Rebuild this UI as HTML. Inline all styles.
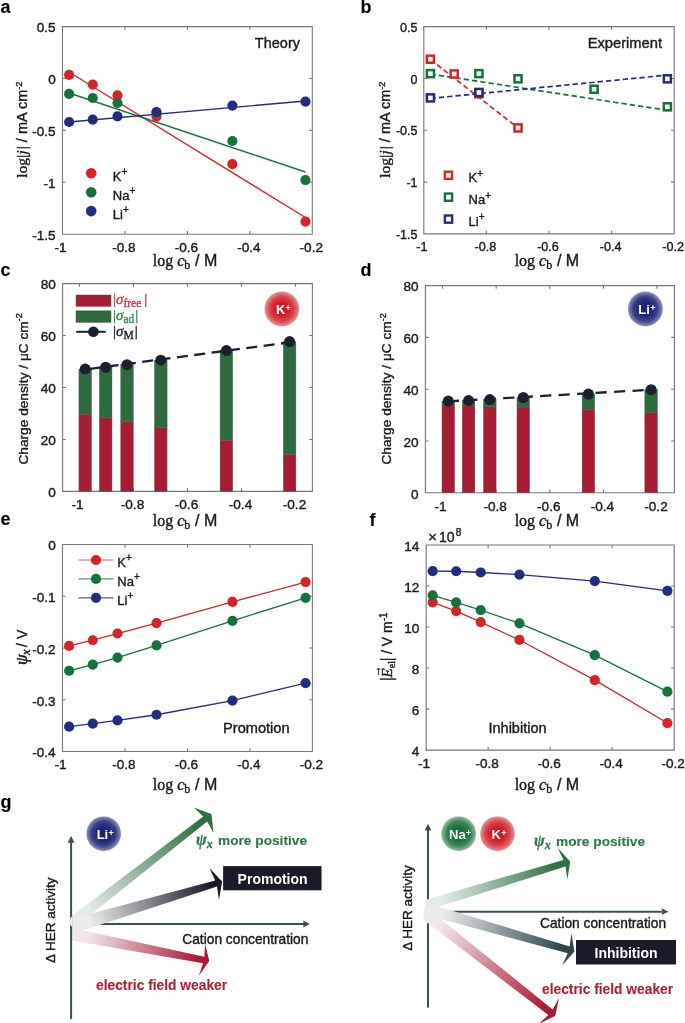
<!DOCTYPE html>
<html><head><meta charset="utf-8"><style>
html,body{margin:0;padding:0;background:#fff;}
svg{display:block;will-change:transform;}
</style></head><body><div>
<svg width="685" height="1023" viewBox="0 0 685 1023">
<defs><linearGradient id="ar1" gradientUnits="userSpaceOnUse" x1="72" y1="934.3" x2="209.3" y2="961.1"><stop offset="0" stop-color="#f1e6e9"/><stop offset="0.12" stop-color="#f1e6e9"/><stop offset="0.92" stop-color="#ab1a37"/></linearGradient>
<linearGradient id="ag1" gradientUnits="userSpaceOnUse" x1="72" y1="922.6" x2="211.5" y2="814.1"><stop offset="0" stop-color="#e3ebe5"/><stop offset="0.12" stop-color="#e3ebe5"/><stop offset="0.92" stop-color="#2d7043"/></linearGradient>
<linearGradient id="ad1" gradientUnits="userSpaceOnUse" x1="72" y1="926.4" x2="222.2" y2="881.6"><stop offset="0" stop-color="#ebebeb"/><stop offset="0.12" stop-color="#ebebeb"/><stop offset="0.92" stop-color="#191b28"/></linearGradient>
<linearGradient id="ar2" gradientUnits="userSpaceOnUse" x1="425" y1="913.6" x2="555.2" y2="1015.9"><stop offset="0" stop-color="#f1e6e9"/><stop offset="0.12" stop-color="#f1e6e9"/><stop offset="0.92" stop-color="#ab1a37"/></linearGradient>
<linearGradient id="ag2" gradientUnits="userSpaceOnUse" x1="425" y1="905.5" x2="570.2" y2="861.5"><stop offset="0" stop-color="#e3ebe5"/><stop offset="0.12" stop-color="#e3ebe5"/><stop offset="0.92" stop-color="#2d7043"/></linearGradient>
<linearGradient id="as2" gradientUnits="userSpaceOnUse" x1="425" y1="908.7" x2="574.5" y2="951.5"><stop offset="0" stop-color="#ebebeb"/><stop offset="0.12" stop-color="#ebebeb"/><stop offset="0.92" stop-color="#2c464b"/></linearGradient>
<radialGradient id="g_red" cx="0.5" cy="0.5" r="0.5"><stop offset="0" stop-color="#d11a24"/><stop offset="0.35" stop-color="#d11a24"/><stop offset="0.7" stop-color="#d8454c"/><stop offset="0.95" stop-color="#e2898d"/><stop offset="1" stop-color="#e2898d" stop-opacity="0.5"/></radialGradient>
<radialGradient id="g_blue" cx="0.5" cy="0.5" r="0.5"><stop offset="0" stop-color="#1d2377"/><stop offset="0.35" stop-color="#1d2377"/><stop offset="0.7" stop-color="#3a4088"/><stop offset="0.95" stop-color="#8387b3"/><stop offset="1" stop-color="#8387b3" stop-opacity="0.5"/></radialGradient>
<radialGradient id="g_green" cx="0.5" cy="0.5" r="0.5"><stop offset="0" stop-color="#17703a"/><stop offset="0.35" stop-color="#17703a"/><stop offset="0.7" stop-color="#3a8553"/><stop offset="0.95" stop-color="#86b294"/><stop offset="1" stop-color="#86b294" stop-opacity="0.5"/></radialGradient></defs>
<path d="M62.5,26.6H312.3V234.2H62.5ZM62.5,234.2v-3.2M62.5,26.6v3.2M124.95,234.2v-3.2M124.95,26.6v3.2M187.4,234.2v-3.2M187.4,26.6v3.2M249.85,234.2v-3.2M249.85,26.6v3.2M312.3,234.2v-3.2M312.3,26.6v3.2M62.5,26.6h3.2M312.3,26.6h-3.2M62.5,78.5h3.2M312.3,78.5h-3.2M62.5,130.4h3.2M312.3,130.4h-3.2M62.5,182.3h3.2M312.3,182.3h-3.2M62.5,234.2h3.2M312.3,234.2h-3.2" fill="none" stroke="#777" stroke-width="1.1"/>
<text x="60.5" y="251.9" font-size="13.6" text-anchor="middle" font-weight="normal" fill="#1a1a1a" font-family='"Liberation Sans", sans-serif'  stroke="#1a1a1a" stroke-width="0.38">-1</text>
<text x="123.95" y="251.9" font-size="13.6" text-anchor="middle" font-weight="normal" fill="#1a1a1a" font-family='"Liberation Sans", sans-serif'  stroke="#1a1a1a" stroke-width="0.38">-0.8</text>
<text x="186.4" y="251.9" font-size="13.6" text-anchor="middle" font-weight="normal" fill="#1a1a1a" font-family='"Liberation Sans", sans-serif'  stroke="#1a1a1a" stroke-width="0.38">-0.6</text>
<text x="248.85" y="251.9" font-size="13.6" text-anchor="middle" font-weight="normal" fill="#1a1a1a" font-family='"Liberation Sans", sans-serif'  stroke="#1a1a1a" stroke-width="0.38">-0.4</text>
<text x="311.3" y="251.9" font-size="13.6" text-anchor="middle" font-weight="normal" fill="#1a1a1a" font-family='"Liberation Sans", sans-serif'  stroke="#1a1a1a" stroke-width="0.38">-0.2</text>
<text x="55.7" y="32.4" font-size="13.6" text-anchor="end" font-weight="normal" fill="#1a1a1a" font-family='"Liberation Sans", sans-serif'  stroke="#1a1a1a" stroke-width="0.38">0.5</text>
<text x="55.7" y="84.3" font-size="13.6" text-anchor="end" font-weight="normal" fill="#1a1a1a" font-family='"Liberation Sans", sans-serif'  stroke="#1a1a1a" stroke-width="0.38">0</text>
<text x="55.7" y="136.2" font-size="13.6" text-anchor="end" font-weight="normal" fill="#1a1a1a" font-family='"Liberation Sans", sans-serif'  stroke="#1a1a1a" stroke-width="0.38">-0.5</text>
<text x="55.7" y="188.1" font-size="13.6" text-anchor="end" font-weight="normal" fill="#1a1a1a" font-family='"Liberation Sans", sans-serif'  stroke="#1a1a1a" stroke-width="0.38">-1</text>
<text x="55.7" y="240" font-size="13.6" text-anchor="end" font-weight="normal" fill="#1a1a1a" font-family='"Liberation Sans", sans-serif'  stroke="#1a1a1a" stroke-width="0.38">-1.5</text>
<text x="300" y="47.8" font-size="14.5" text-anchor="end" font-weight="normal" fill="#1a1a1a" font-family='"Liberation Sans", sans-serif'  stroke="#1a1a1a" stroke-width="0.38">Theory</text>
<line x1="69" y1="72" x2="305.4" y2="217.5" stroke="#d42428" stroke-width="1.4"/>
<line x1="69" y1="93" x2="305.4" y2="172" stroke="#14733c" stroke-width="1.4"/>
<line x1="69" y1="122" x2="305.4" y2="101" stroke="#232d7d" stroke-width="1.4"/>
<circle cx="69.12" cy="74.97" r="5.1" fill="#d42428"/>
<circle cx="92.76" cy="84.62" r="5.1" fill="#d42428"/>
<circle cx="117.48" cy="95.42" r="5.1" fill="#d42428"/>
<circle cx="156.5" cy="116.59" r="5.1" fill="#d42428"/>
<circle cx="232.39" cy="164.03" r="5.1" fill="#d42428"/>
<circle cx="305.48" cy="221.54" r="5.1" fill="#d42428"/>
<circle cx="69.12" cy="93.97" r="5.1" fill="#14733c"/>
<circle cx="92.76" cy="98.01" r="5.1" fill="#14733c"/>
<circle cx="117.48" cy="103" r="5.1" fill="#14733c"/>
<circle cx="156.5" cy="112.75" r="5.1" fill="#14733c"/>
<circle cx="232.39" cy="140.99" r="5.1" fill="#14733c"/>
<circle cx="305.48" cy="180.02" r="5.1" fill="#14733c"/>
<circle cx="69.12" cy="121.99" r="5.1" fill="#232d7d"/>
<circle cx="92.76" cy="119.6" r="5.1" fill="#232d7d"/>
<circle cx="117.48" cy="116.39" r="5.1" fill="#232d7d"/>
<circle cx="156.5" cy="112.03" r="5.1" fill="#232d7d"/>
<circle cx="232.39" cy="105.59" r="5.1" fill="#232d7d"/>
<circle cx="305.48" cy="101.6" r="5.1" fill="#232d7d"/>
<circle cx="91.2" cy="173.3" r="5.3" fill="#d42428"/>
<text x="112.8" y="180.9" font-size="13" fill="#1a1a1a" font-family='"Liberation Sans", sans-serif' stroke="#1a1a1a" stroke-width="0.38">K<tspan font-size="10" dy="-5.6">+</tspan></text>
<circle cx="91.2" cy="192.2" r="5.3" fill="#14733c"/>
<text x="112.8" y="199.8" font-size="13" fill="#1a1a1a" font-family='"Liberation Sans", sans-serif' stroke="#1a1a1a" stroke-width="0.38">Na<tspan font-size="10" dy="-5.6">+</tspan></text>
<circle cx="91.2" cy="211.1" r="5.3" fill="#232d7d"/>
<text x="112.8" y="218.7" font-size="13" fill="#1a1a1a" font-family='"Liberation Sans", sans-serif' stroke="#1a1a1a" stroke-width="0.38">Li<tspan font-size="10" dy="-5.6">+</tspan></text>
<text x="185.05" y="266.3" text-anchor="middle" fill="#1a1a1a" font-size="16" stroke="#1a1a1a" stroke-width="0.38"><tspan font-family='"Liberation Serif", serif'>log </tspan><tspan font-family='"Liberation Serif", serif' font-style="italic">c</tspan><tspan font-family='"Liberation Serif", serif' font-size="12" dy="3">b</tspan><tspan font-family='"Liberation Sans", sans-serif' font-size="16" dy="-3" dx="0.3"> / M</tspan></text>
<text transform="translate(27.2,129.8) rotate(-90)" text-anchor="middle" fill="#1a1a1a" font-size="14.5" stroke="#1a1a1a" stroke-width="0.38"><tspan font-family='"Liberation Serif", serif' font-size="15.5">log|</tspan><tspan font-family='"Liberation Serif", serif' font-size="15.5" font-style="italic" dx="0.5">j</tspan><tspan font-family='"Liberation Serif", serif' font-size="15.5" dx="0.8">|</tspan><tspan font-family='"Liberation Sans", sans-serif'> / mA cm</tspan><tspan font-family='"Liberation Sans", sans-serif' font-size="9" dy="-5.5">-2</tspan></text>
<text x="0.5" y="13.2" font-size="18" text-anchor="start" font-weight="bold" fill="#000" font-family='"Liberation Sans", sans-serif'  stroke="#000" stroke-width="0.12">a</text>
<path d="M423.8,26.6H674.2V233.9H423.8ZM423.8,233.9v-3.2M423.8,26.6v3.2M486.4,233.9v-3.2M486.4,26.6v3.2M549,233.9v-3.2M549,26.6v3.2M611.6,233.9v-3.2M611.6,26.6v3.2M674.2,233.9v-3.2M674.2,26.6v3.2M423.8,26.6h3.2M674.2,26.6h-3.2M423.8,78.43h3.2M674.2,78.43h-3.2M423.8,130.25h3.2M674.2,130.25h-3.2M423.8,182.08h3.2M674.2,182.08h-3.2M423.8,233.9h3.2M674.2,233.9h-3.2" fill="none" stroke="#777" stroke-width="1.1"/>
<text x="421.8" y="251.3" font-size="12.6" text-anchor="middle" font-weight="normal" fill="#1a1a1a" font-family='"Liberation Sans", sans-serif'  stroke="#1a1a1a" stroke-width="0.38">-1</text>
<text x="485.4" y="251.3" font-size="12.6" text-anchor="middle" font-weight="normal" fill="#1a1a1a" font-family='"Liberation Sans", sans-serif'  stroke="#1a1a1a" stroke-width="0.38">-0.8</text>
<text x="548" y="251.3" font-size="12.6" text-anchor="middle" font-weight="normal" fill="#1a1a1a" font-family='"Liberation Sans", sans-serif'  stroke="#1a1a1a" stroke-width="0.38">-0.6</text>
<text x="610.6" y="251.3" font-size="12.6" text-anchor="middle" font-weight="normal" fill="#1a1a1a" font-family='"Liberation Sans", sans-serif'  stroke="#1a1a1a" stroke-width="0.38">-0.4</text>
<text x="673.2" y="251.3" font-size="12.6" text-anchor="middle" font-weight="normal" fill="#1a1a1a" font-family='"Liberation Sans", sans-serif'  stroke="#1a1a1a" stroke-width="0.38">-0.2</text>
<text x="417.5" y="31.8" font-size="12.5" text-anchor="end" font-weight="normal" fill="#1a1a1a" font-family='"Liberation Sans", sans-serif'  stroke="#1a1a1a" stroke-width="0.38">0.5</text>
<text x="417.5" y="83.63" font-size="12.5" text-anchor="end" font-weight="normal" fill="#1a1a1a" font-family='"Liberation Sans", sans-serif'  stroke="#1a1a1a" stroke-width="0.38">0</text>
<text x="417.5" y="135.45" font-size="12.5" text-anchor="end" font-weight="normal" fill="#1a1a1a" font-family='"Liberation Sans", sans-serif'  stroke="#1a1a1a" stroke-width="0.38">-0.5</text>
<text x="417.5" y="187.28" font-size="12.5" text-anchor="end" font-weight="normal" fill="#1a1a1a" font-family='"Liberation Sans", sans-serif'  stroke="#1a1a1a" stroke-width="0.38">-1</text>
<text x="417.5" y="239.1" font-size="12.5" text-anchor="end" font-weight="normal" fill="#1a1a1a" font-family='"Liberation Sans", sans-serif'  stroke="#1a1a1a" stroke-width="0.38">-1.5</text>
<text x="662" y="47.8" font-size="14.7" text-anchor="end" font-weight="normal" fill="#1a1a1a" font-family='"Liberation Sans", sans-serif'  stroke="#1a1a1a" stroke-width="0.38">Experiment</text>
<line x1="430.43" y1="59.53" x2="518.02" y2="127.94" stroke="#d42428" stroke-width="1.7" stroke-dasharray="5.3 3.1"/>
<line x1="430.43" y1="74.04" x2="667.36" y2="110.32" stroke="#14733c" stroke-width="1.7" stroke-dasharray="5.3 3.1"/>
<line x1="430.43" y1="98.4" x2="667.36" y2="75.08" stroke="#232d7d" stroke-width="1.7" stroke-dasharray="5.3 3.1"/>
<rect x="426.88" y="70.08" width="7.1" height="7.1" fill="#fff" stroke="#14733c" stroke-width="2.5"/>
<rect x="475.37" y="70.08" width="7.1" height="7.1" fill="#fff" stroke="#14733c" stroke-width="2.5"/>
<rect x="514.47" y="75.26" width="7.1" height="7.1" fill="#fff" stroke="#14733c" stroke-width="2.5"/>
<rect x="590.54" y="85.73" width="7.1" height="7.1" fill="#fff" stroke="#14733c" stroke-width="2.5"/>
<rect x="663.81" y="103.25" width="7.1" height="7.1" fill="#fff" stroke="#14733c" stroke-width="2.5"/>
<rect x="426.88" y="55.67" width="7.1" height="7.1" fill="#fff" stroke="#d42428" stroke-width="2.5"/>
<rect x="450.58" y="70.39" width="7.1" height="7.1" fill="#fff" stroke="#d42428" stroke-width="2.5"/>
<rect x="475.37" y="90.19" width="7.1" height="7.1" fill="#fff" stroke="#d42428" stroke-width="2.5"/>
<rect x="514.47" y="124.39" width="7.1" height="7.1" fill="#fff" stroke="#d42428" stroke-width="2.5"/>
<rect x="426.88" y="94.33" width="7.1" height="7.1" fill="#fff" stroke="#232d7d" stroke-width="2.5"/>
<rect x="475.37" y="88.94" width="7.1" height="7.1" fill="#fff" stroke="#232d7d" stroke-width="2.5"/>
<rect x="663.81" y="75.26" width="7.1" height="7.1" fill="#fff" stroke="#232d7d" stroke-width="2.5"/>
<rect x="444.9" y="171.7" width="7.2" height="7.2" fill="none" stroke="#d42428" stroke-width="2.4"/>
<text x="468.6" y="182.2" font-size="13" fill="#1a1a1a" font-family='"Liberation Sans", sans-serif' stroke="#1a1a1a" stroke-width="0.38">K<tspan font-size="10" dy="-5.6">+</tspan></text>
<rect x="444.9" y="193.6" width="7.2" height="7.2" fill="none" stroke="#14733c" stroke-width="2.4"/>
<text x="468.6" y="204.1" font-size="13" fill="#1a1a1a" font-family='"Liberation Sans", sans-serif' stroke="#1a1a1a" stroke-width="0.38">Na<tspan font-size="10" dy="-5.6">+</tspan></text>
<rect x="444.9" y="215.5" width="7.2" height="7.2" fill="none" stroke="#232d7d" stroke-width="2.4"/>
<text x="468.6" y="226" font-size="13" fill="#1a1a1a" font-family='"Liberation Sans", sans-serif' stroke="#1a1a1a" stroke-width="0.38">Li<tspan font-size="10" dy="-5.6">+</tspan></text>
<text x="546.9" y="266.3" text-anchor="middle" fill="#1a1a1a" font-size="16" stroke="#1a1a1a" stroke-width="0.38"><tspan font-family='"Liberation Serif", serif'>log </tspan><tspan font-family='"Liberation Serif", serif' font-style="italic">c</tspan><tspan font-family='"Liberation Serif", serif' font-size="12" dy="3">b</tspan><tspan font-family='"Liberation Sans", sans-serif' font-size="16" dy="-3" dx="0.3"> / M</tspan></text>
<text transform="translate(390.4,129.8) rotate(-90)" text-anchor="middle" fill="#1a1a1a" font-size="14.5" stroke="#1a1a1a" stroke-width="0.38"><tspan font-family='"Liberation Serif", serif' font-size="15.5">log|</tspan><tspan font-family='"Liberation Serif", serif' font-size="15.5" font-style="italic" dx="0.5">j</tspan><tspan font-family='"Liberation Serif", serif' font-size="15.5" dx="0.8">|</tspan><tspan font-family='"Liberation Sans", sans-serif'> / mA cm</tspan><tspan font-family='"Liberation Sans", sans-serif' font-size="9" dy="-5.5">-2</tspan></text>
<text x="360.5" y="13.2" font-size="18" text-anchor="start" font-weight="bold" fill="#000" font-family='"Liberation Sans", sans-serif'  stroke="#000" stroke-width="0.12">b</text>
<path d="M62.6,283.6H312.4V491.4H62.6ZM79.5,491.4v-3.2M79.5,283.6v3.2M133.5,491.4v-3.2M133.5,283.6v3.2M187.5,491.4v-3.2M187.5,283.6v3.2M241.5,491.4v-3.2M241.5,283.6v3.2M295.5,491.4v-3.2M295.5,283.6v3.2M62.6,491.4h3.2M312.4,491.4h-3.2M62.6,439.45h3.2M312.4,439.45h-3.2M62.6,387.5h3.2M312.4,387.5h-3.2M62.6,335.55h3.2M312.4,335.55h-3.2M62.6,283.6h3.2M312.4,283.6h-3.2" fill="none" stroke="#777" stroke-width="1.1"/>
<text x="77.5" y="509.1" font-size="13.6" text-anchor="middle" font-weight="normal" fill="#1a1a1a" font-family='"Liberation Sans", sans-serif'  stroke="#1a1a1a" stroke-width="0.38">-1</text>
<text x="132.5" y="509.1" font-size="13.6" text-anchor="middle" font-weight="normal" fill="#1a1a1a" font-family='"Liberation Sans", sans-serif'  stroke="#1a1a1a" stroke-width="0.38">-0.8</text>
<text x="186.5" y="509.1" font-size="13.6" text-anchor="middle" font-weight="normal" fill="#1a1a1a" font-family='"Liberation Sans", sans-serif'  stroke="#1a1a1a" stroke-width="0.38">-0.6</text>
<text x="240.5" y="509.1" font-size="13.6" text-anchor="middle" font-weight="normal" fill="#1a1a1a" font-family='"Liberation Sans", sans-serif'  stroke="#1a1a1a" stroke-width="0.38">-0.4</text>
<text x="294.5" y="509.1" font-size="13.6" text-anchor="middle" font-weight="normal" fill="#1a1a1a" font-family='"Liberation Sans", sans-serif'  stroke="#1a1a1a" stroke-width="0.38">-0.2</text>
<text x="55.8" y="497.2" font-size="13.6" text-anchor="end" font-weight="normal" fill="#1a1a1a" font-family='"Liberation Sans", sans-serif'  stroke="#1a1a1a" stroke-width="0.38">0</text>
<text x="55.8" y="445.25" font-size="13.6" text-anchor="end" font-weight="normal" fill="#1a1a1a" font-family='"Liberation Sans", sans-serif'  stroke="#1a1a1a" stroke-width="0.38">20</text>
<text x="55.8" y="393.3" font-size="13.6" text-anchor="end" font-weight="normal" fill="#1a1a1a" font-family='"Liberation Sans", sans-serif'  stroke="#1a1a1a" stroke-width="0.38">40</text>
<text x="55.8" y="341.35" font-size="13.6" text-anchor="end" font-weight="normal" fill="#1a1a1a" font-family='"Liberation Sans", sans-serif'  stroke="#1a1a1a" stroke-width="0.38">60</text>
<text x="55.8" y="289.4" font-size="13.6" text-anchor="end" font-weight="normal" fill="#1a1a1a" font-family='"Liberation Sans", sans-serif'  stroke="#1a1a1a" stroke-width="0.38">80</text>
<rect x="78.92" y="414.51" width="12.6" height="76.89" fill="#a51c33" stroke="#555" stroke-width="0.4"/>
<rect x="78.92" y="369.06" width="12.6" height="45.46" fill="#2c6b3e" stroke="#555" stroke-width="0.4"/>
<rect x="99.37" y="417.37" width="12.6" height="74.03" fill="#a51c33" stroke="#555" stroke-width="0.4"/>
<rect x="99.37" y="367.24" width="12.6" height="50.13" fill="#2c6b3e" stroke="#555" stroke-width="0.4"/>
<rect x="120.74" y="421.53" width="12.6" height="69.87" fill="#a51c33" stroke="#555" stroke-width="0.4"/>
<rect x="120.74" y="364.64" width="12.6" height="56.89" fill="#2c6b3e" stroke="#555" stroke-width="0.4"/>
<rect x="154.48" y="427.5" width="12.6" height="63.9" fill="#a51c33" stroke="#555" stroke-width="0.4"/>
<rect x="154.48" y="360.23" width="12.6" height="67.28" fill="#2c6b3e" stroke="#555" stroke-width="0.4"/>
<rect x="220.1" y="440.49" width="12.6" height="50.91" fill="#a51c33" stroke="#555" stroke-width="0.4"/>
<rect x="220.1" y="350.62" width="12.6" height="89.87" fill="#2c6b3e" stroke="#555" stroke-width="0.4"/>
<rect x="283.3" y="454.52" width="12.6" height="36.88" fill="#a51c33" stroke="#555" stroke-width="0.4"/>
<rect x="283.3" y="341.52" width="12.6" height="112.99" fill="#2c6b3e" stroke="#555" stroke-width="0.4"/>
<line x1="85" y1="369.5" x2="290" y2="342.3" stroke="#1c1f2e" stroke-width="2.3" stroke-dasharray="11 6.5" stroke-dashoffset="12.3"/>
<circle cx="85.22" cy="369.06" r="5.5" fill="#1c1f2e"/>
<circle cx="105.67" cy="367.24" r="5.5" fill="#1c1f2e"/>
<circle cx="127.04" cy="364.64" r="5.5" fill="#1c1f2e"/>
<circle cx="160.78" cy="360.23" r="5.5" fill="#1c1f2e"/>
<circle cx="226.4" cy="350.62" r="5.5" fill="#1c1f2e"/>
<circle cx="289.6" cy="341.52" r="5.5" fill="#1c1f2e"/>
<text x="0.5" y="275.5" font-size="18" text-anchor="start" font-weight="bold" fill="#000" font-family='"Liberation Sans", sans-serif'  stroke="#000" stroke-width="0.12">c</text>
<text x="185.05" y="526" text-anchor="middle" fill="#1a1a1a" font-size="16" stroke="#1a1a1a" stroke-width="0.38"><tspan font-family='"Liberation Serif", serif'>log </tspan><tspan font-family='"Liberation Serif", serif' font-style="italic">c</tspan><tspan font-family='"Liberation Serif", serif' font-size="12" dy="3">b</tspan><tspan font-family='"Liberation Sans", sans-serif' font-size="16" dy="-3" dx="0.3"> / M</tspan></text>
<path d="M425.4,285.6H674.4V492.8H425.4ZM442.6,492.8v-3.2M442.6,285.6v3.2M496.2,492.8v-3.2M496.2,285.6v3.2M549.8,492.8v-3.2M549.8,285.6v3.2M603.4,492.8v-3.2M603.4,285.6v3.2M657,492.8v-3.2M657,285.6v3.2M425.4,492.8h3.2M674.4,492.8h-3.2M425.4,441h3.2M674.4,441h-3.2M425.4,389.2h3.2M674.4,389.2h-3.2M425.4,337.4h3.2M674.4,337.4h-3.2M425.4,285.6h3.2M674.4,285.6h-3.2" fill="none" stroke="#777" stroke-width="1.1"/>
<text x="440.6" y="510.5" font-size="13.6" text-anchor="middle" font-weight="normal" fill="#1a1a1a" font-family='"Liberation Sans", sans-serif'  stroke="#1a1a1a" stroke-width="0.38">-1</text>
<text x="495.2" y="510.5" font-size="13.6" text-anchor="middle" font-weight="normal" fill="#1a1a1a" font-family='"Liberation Sans", sans-serif'  stroke="#1a1a1a" stroke-width="0.38">-0.8</text>
<text x="548.8" y="510.5" font-size="13.6" text-anchor="middle" font-weight="normal" fill="#1a1a1a" font-family='"Liberation Sans", sans-serif'  stroke="#1a1a1a" stroke-width="0.38">-0.6</text>
<text x="602.4" y="510.5" font-size="13.6" text-anchor="middle" font-weight="normal" fill="#1a1a1a" font-family='"Liberation Sans", sans-serif'  stroke="#1a1a1a" stroke-width="0.38">-0.4</text>
<text x="656" y="510.5" font-size="13.6" text-anchor="middle" font-weight="normal" fill="#1a1a1a" font-family='"Liberation Sans", sans-serif'  stroke="#1a1a1a" stroke-width="0.38">-0.2</text>
<text x="418.6" y="498.6" font-size="13.6" text-anchor="end" font-weight="normal" fill="#1a1a1a" font-family='"Liberation Sans", sans-serif'  stroke="#1a1a1a" stroke-width="0.38">0</text>
<text x="418.6" y="446.8" font-size="13.6" text-anchor="end" font-weight="normal" fill="#1a1a1a" font-family='"Liberation Sans", sans-serif'  stroke="#1a1a1a" stroke-width="0.38">20</text>
<text x="418.6" y="395" font-size="13.6" text-anchor="end" font-weight="normal" fill="#1a1a1a" font-family='"Liberation Sans", sans-serif'  stroke="#1a1a1a" stroke-width="0.38">40</text>
<text x="418.6" y="343.2" font-size="13.6" text-anchor="end" font-weight="normal" fill="#1a1a1a" font-family='"Liberation Sans", sans-serif'  stroke="#1a1a1a" stroke-width="0.38">60</text>
<text x="418.6" y="291.4" font-size="13.6" text-anchor="end" font-weight="normal" fill="#1a1a1a" font-family='"Liberation Sans", sans-serif'  stroke="#1a1a1a" stroke-width="0.38">80</text>
<rect x="441.98" y="405.78" width="12.6" height="87.02" fill="#a51c33" stroke="#555" stroke-width="0.4"/>
<rect x="441.98" y="401.11" width="12.6" height="4.66" fill="#2c6b3e" stroke="#555" stroke-width="0.4"/>
<rect x="462.27" y="405.78" width="12.6" height="87.02" fill="#a51c33" stroke="#555" stroke-width="0.4"/>
<rect x="462.27" y="400.6" width="12.6" height="5.18" fill="#2c6b3e" stroke="#555" stroke-width="0.4"/>
<rect x="483.49" y="406.55" width="12.6" height="86.25" fill="#a51c33" stroke="#555" stroke-width="0.4"/>
<rect x="483.49" y="399.56" width="12.6" height="6.99" fill="#2c6b3e" stroke="#555" stroke-width="0.4"/>
<rect x="516.98" y="407.07" width="12.6" height="85.73" fill="#a51c33" stroke="#555" stroke-width="0.4"/>
<rect x="516.98" y="397.49" width="12.6" height="9.58" fill="#2c6b3e" stroke="#555" stroke-width="0.4"/>
<rect x="582.11" y="409.4" width="12.6" height="83.4" fill="#a51c33" stroke="#555" stroke-width="0.4"/>
<rect x="582.11" y="394.12" width="12.6" height="15.28" fill="#2c6b3e" stroke="#555" stroke-width="0.4"/>
<rect x="644.84" y="412.51" width="12.6" height="80.29" fill="#a51c33" stroke="#555" stroke-width="0.4"/>
<rect x="644.84" y="389.72" width="12.6" height="22.79" fill="#2c6b3e" stroke="#555" stroke-width="0.4"/>
<line x1="448.28" y1="401.37" x2="651.14" y2="389.72" stroke="#1c1f2e" stroke-width="2.3" stroke-dasharray="11.2 7.3" stroke-dashoffset="0.5"/>
<circle cx="448.28" cy="401.11" r="5.5" fill="#1c1f2e"/>
<circle cx="468.57" cy="400.6" r="5.5" fill="#1c1f2e"/>
<circle cx="489.79" cy="399.56" r="5.5" fill="#1c1f2e"/>
<circle cx="523.28" cy="397.49" r="5.5" fill="#1c1f2e"/>
<circle cx="588.41" cy="394.12" r="5.5" fill="#1c1f2e"/>
<circle cx="651.14" cy="389.72" r="5.5" fill="#1c1f2e"/>
<text x="360.5" y="275.5" font-size="18" text-anchor="start" font-weight="bold" fill="#000" font-family='"Liberation Sans", sans-serif'  stroke="#000" stroke-width="0.12">d</text>
<text x="546.9" y="526" text-anchor="middle" fill="#1a1a1a" font-size="16" stroke="#1a1a1a" stroke-width="0.38"><tspan font-family='"Liberation Serif", serif'>log </tspan><tspan font-family='"Liberation Serif", serif' font-style="italic">c</tspan><tspan font-family='"Liberation Serif", serif' font-size="12" dy="3">b</tspan><tspan font-family='"Liberation Sans", sans-serif' font-size="16" dy="-3" dx="0.3"> / M</tspan></text>
<path d="M62.5,544.5H312.4V751.5H62.5ZM62.5,751.5v-3.2M62.5,544.5v3.2M124.97,751.5v-3.2M124.97,544.5v3.2M187.45,751.5v-3.2M187.45,544.5v3.2M249.92,751.5v-3.2M249.92,544.5v3.2M312.4,751.5v-3.2M312.4,544.5v3.2M62.5,544.5h3.2M312.4,544.5h-3.2M62.5,596.25h3.2M312.4,596.25h-3.2M62.5,648h3.2M312.4,648h-3.2M62.5,699.75h3.2M312.4,699.75h-3.2M62.5,751.5h3.2M312.4,751.5h-3.2" fill="none" stroke="#777" stroke-width="1.1"/>
<text x="60.5" y="769.2" font-size="13.6" text-anchor="middle" font-weight="normal" fill="#1a1a1a" font-family='"Liberation Sans", sans-serif'  stroke="#1a1a1a" stroke-width="0.38">-1</text>
<text x="123.97" y="769.2" font-size="13.6" text-anchor="middle" font-weight="normal" fill="#1a1a1a" font-family='"Liberation Sans", sans-serif'  stroke="#1a1a1a" stroke-width="0.38">-0.8</text>
<text x="186.45" y="769.2" font-size="13.6" text-anchor="middle" font-weight="normal" fill="#1a1a1a" font-family='"Liberation Sans", sans-serif'  stroke="#1a1a1a" stroke-width="0.38">-0.6</text>
<text x="248.92" y="769.2" font-size="13.6" text-anchor="middle" font-weight="normal" fill="#1a1a1a" font-family='"Liberation Sans", sans-serif'  stroke="#1a1a1a" stroke-width="0.38">-0.4</text>
<text x="311.4" y="769.2" font-size="13.6" text-anchor="middle" font-weight="normal" fill="#1a1a1a" font-family='"Liberation Sans", sans-serif'  stroke="#1a1a1a" stroke-width="0.38">-0.2</text>
<text x="55.7" y="550.3" font-size="13.6" text-anchor="end" font-weight="normal" fill="#1a1a1a" font-family='"Liberation Sans", sans-serif'  stroke="#1a1a1a" stroke-width="0.38">0</text>
<text x="55.7" y="602.05" font-size="13.6" text-anchor="end" font-weight="normal" fill="#1a1a1a" font-family='"Liberation Sans", sans-serif'  stroke="#1a1a1a" stroke-width="0.38">-0.1</text>
<text x="55.7" y="653.8" font-size="13.6" text-anchor="end" font-weight="normal" fill="#1a1a1a" font-family='"Liberation Sans", sans-serif'  stroke="#1a1a1a" stroke-width="0.38">-0.2</text>
<text x="55.7" y="705.55" font-size="13.6" text-anchor="end" font-weight="normal" fill="#1a1a1a" font-family='"Liberation Sans", sans-serif'  stroke="#1a1a1a" stroke-width="0.38">-0.3</text>
<text x="55.7" y="757.3" font-size="13.6" text-anchor="end" font-weight="normal" fill="#1a1a1a" font-family='"Liberation Sans", sans-serif'  stroke="#1a1a1a" stroke-width="0.38">-0.4</text>
<polyline points="69.12,645.93 92.77,640.24 117.51,633.51 156.53,623.16 232.45,601.94 305.57,582.02" fill="none" stroke="#d42428" stroke-width="1.3"/>
<circle cx="69.12" cy="645.93" r="5.1" fill="#d42428"/>
<circle cx="92.77" cy="640.24" r="5.1" fill="#d42428"/>
<circle cx="117.51" cy="633.51" r="5.1" fill="#d42428"/>
<circle cx="156.53" cy="623.16" r="5.1" fill="#d42428"/>
<circle cx="232.45" cy="601.94" r="5.1" fill="#d42428"/>
<circle cx="305.57" cy="582.02" r="5.1" fill="#d42428"/>
<polyline points="69.12,670.77 92.77,664.56 117.51,657.57 156.53,645.41 232.45,620.83 305.57,597.8" fill="none" stroke="#14733c" stroke-width="1.3"/>
<circle cx="69.12" cy="670.77" r="5.1" fill="#14733c"/>
<circle cx="92.77" cy="664.56" r="5.1" fill="#14733c"/>
<circle cx="117.51" cy="657.57" r="5.1" fill="#14733c"/>
<circle cx="156.53" cy="645.41" r="5.1" fill="#14733c"/>
<circle cx="232.45" cy="620.83" r="5.1" fill="#14733c"/>
<circle cx="305.57" cy="597.8" r="5.1" fill="#14733c"/>
<polyline points="69.12,726.66 92.77,723.55 117.51,720.45 156.53,714.76 232.45,700.53 305.57,683.19" fill="none" stroke="#232d7d" stroke-width="1.3"/>
<circle cx="69.12" cy="726.66" r="5.1" fill="#232d7d"/>
<circle cx="92.77" cy="723.55" r="5.1" fill="#232d7d"/>
<circle cx="117.51" cy="720.45" r="5.1" fill="#232d7d"/>
<circle cx="156.53" cy="714.76" r="5.1" fill="#232d7d"/>
<circle cx="232.45" cy="700.53" r="5.1" fill="#232d7d"/>
<circle cx="305.57" cy="683.19" r="5.1" fill="#232d7d"/>
<line x1="78.4" y1="560" x2="113.4" y2="560" stroke="#d42428" stroke-width="1.2" opacity="0.75"/>
<circle cx="96" cy="560" r="5.1" fill="#d42428"/>
<text x="117.3" y="567" font-size="13" fill="#1a1a1a" font-family='"Liberation Sans", sans-serif' stroke="#1a1a1a" stroke-width="0.38">K<tspan font-size="10" dy="-5.6">+</tspan></text>
<line x1="78.4" y1="578.9" x2="113.4" y2="578.9" stroke="#14733c" stroke-width="1.2" opacity="0.75"/>
<circle cx="96" cy="578.9" r="5.1" fill="#14733c"/>
<text x="117.3" y="585.9" font-size="13" fill="#1a1a1a" font-family='"Liberation Sans", sans-serif' stroke="#1a1a1a" stroke-width="0.38">Na<tspan font-size="10" dy="-5.6">+</tspan></text>
<line x1="78.4" y1="597.8" x2="113.4" y2="597.8" stroke="#232d7d" stroke-width="1.2" opacity="0.75"/>
<circle cx="96" cy="597.8" r="5.1" fill="#232d7d"/>
<text x="117.3" y="604.8" font-size="13" fill="#1a1a1a" font-family='"Liberation Sans", sans-serif' stroke="#1a1a1a" stroke-width="0.38">Li<tspan font-size="10" dy="-5.6">+</tspan></text>
<text x="289.6" y="733.2" font-size="14.6" text-anchor="end" font-weight="normal" fill="#1a1a1a" font-family='"Liberation Sans", sans-serif'  stroke="#1a1a1a" stroke-width="0.38">Promotion</text>
<text x="0.5" y="525" font-size="18" text-anchor="start" font-weight="bold" fill="#000" font-family='"Liberation Sans", sans-serif'  stroke="#000" stroke-width="0.12">e</text>
<text x="185.05" y="790" text-anchor="middle" fill="#1a1a1a" font-size="16" stroke="#1a1a1a" stroke-width="0.38"><tspan font-family='"Liberation Serif", serif'>log </tspan><tspan font-family='"Liberation Serif", serif' font-style="italic">c</tspan><tspan font-family='"Liberation Serif", serif' font-size="12" dy="3">b</tspan><tspan font-family='"Liberation Sans", sans-serif' font-size="16" dy="-3" dx="0.3"> / M</tspan></text>
<path d="M426.2,545H674.2V750.1H426.2ZM426.1,750.1v-3.2M426.1,545v3.2M488.12,750.1v-3.2M488.12,545v3.2M550.14,750.1v-3.2M550.14,545v3.2M612.16,750.1v-3.2M612.16,545v3.2M674.18,750.1v-3.2M674.18,545v3.2M426.2,545h3.2M674.2,545h-3.2M426.2,586.02h3.2M674.2,586.02h-3.2M426.2,627.04h3.2M674.2,627.04h-3.2M426.2,668.06h3.2M674.2,668.06h-3.2M426.2,709.08h3.2M674.2,709.08h-3.2M426.2,750.1h3.2M674.2,750.1h-3.2" fill="none" stroke="#777" stroke-width="1.1"/>
<text x="424.1" y="767.8" font-size="13.6" text-anchor="middle" font-weight="normal" fill="#1a1a1a" font-family='"Liberation Sans", sans-serif'  stroke="#1a1a1a" stroke-width="0.38">-1</text>
<text x="487.12" y="767.8" font-size="13.6" text-anchor="middle" font-weight="normal" fill="#1a1a1a" font-family='"Liberation Sans", sans-serif'  stroke="#1a1a1a" stroke-width="0.38">-0.8</text>
<text x="549.14" y="767.8" font-size="13.6" text-anchor="middle" font-weight="normal" fill="#1a1a1a" font-family='"Liberation Sans", sans-serif'  stroke="#1a1a1a" stroke-width="0.38">-0.6</text>
<text x="611.16" y="767.8" font-size="13.6" text-anchor="middle" font-weight="normal" fill="#1a1a1a" font-family='"Liberation Sans", sans-serif'  stroke="#1a1a1a" stroke-width="0.38">-0.4</text>
<text x="673.18" y="767.8" font-size="13.6" text-anchor="middle" font-weight="normal" fill="#1a1a1a" font-family='"Liberation Sans", sans-serif'  stroke="#1a1a1a" stroke-width="0.38">-0.2</text>
<text x="419.4" y="550.8" font-size="13.6" text-anchor="end" font-weight="normal" fill="#1a1a1a" font-family='"Liberation Sans", sans-serif'  stroke="#1a1a1a" stroke-width="0.38">14</text>
<text x="419.4" y="591.82" font-size="13.6" text-anchor="end" font-weight="normal" fill="#1a1a1a" font-family='"Liberation Sans", sans-serif'  stroke="#1a1a1a" stroke-width="0.38">12</text>
<text x="419.4" y="632.84" font-size="13.6" text-anchor="end" font-weight="normal" fill="#1a1a1a" font-family='"Liberation Sans", sans-serif'  stroke="#1a1a1a" stroke-width="0.38">10</text>
<text x="419.4" y="673.86" font-size="13.6" text-anchor="end" font-weight="normal" fill="#1a1a1a" font-family='"Liberation Sans", sans-serif'  stroke="#1a1a1a" stroke-width="0.38">8</text>
<text x="419.4" y="714.88" font-size="13.6" text-anchor="end" font-weight="normal" fill="#1a1a1a" font-family='"Liberation Sans", sans-serif'  stroke="#1a1a1a" stroke-width="0.38">6</text>
<text x="419.4" y="755.9" font-size="13.6" text-anchor="end" font-weight="normal" fill="#1a1a1a" font-family='"Liberation Sans", sans-serif'  stroke="#1a1a1a" stroke-width="0.38">4</text>
<polyline points="432.67,602.43 456.15,611.04 480.71,622.12 519.45,639.96 594.82,680.16 667.4,723.03" fill="none" stroke="#d42428" stroke-width="1.3"/>
<circle cx="432.67" cy="602.43" r="5.1" fill="#d42428"/>
<circle cx="456.15" cy="611.04" r="5.1" fill="#d42428"/>
<circle cx="480.71" cy="622.12" r="5.1" fill="#d42428"/>
<circle cx="519.45" cy="639.96" r="5.1" fill="#d42428"/>
<circle cx="594.82" cy="680.16" r="5.1" fill="#d42428"/>
<circle cx="667.4" cy="723.03" r="5.1" fill="#d42428"/>
<polyline points="432.67,595.45 456.15,602.43 480.71,610.02 519.45,623.35 594.82,655.14 667.4,691.65" fill="none" stroke="#14733c" stroke-width="1.3"/>
<circle cx="432.67" cy="595.45" r="5.1" fill="#14733c"/>
<circle cx="456.15" cy="602.43" r="5.1" fill="#14733c"/>
<circle cx="480.71" cy="610.02" r="5.1" fill="#14733c"/>
<circle cx="519.45" cy="623.35" r="5.1" fill="#14733c"/>
<circle cx="594.82" cy="655.14" r="5.1" fill="#14733c"/>
<circle cx="667.4" cy="691.65" r="5.1" fill="#14733c"/>
<polyline points="432.67,571.05 456.15,571.25 480.71,572.48 519.45,574.53 594.82,581.1 667.4,590.94" fill="none" stroke="#232d7d" stroke-width="1.3"/>
<circle cx="432.67" cy="571.05" r="5.1" fill="#232d7d"/>
<circle cx="456.15" cy="571.25" r="5.1" fill="#232d7d"/>
<circle cx="480.71" cy="572.48" r="5.1" fill="#232d7d"/>
<circle cx="519.45" cy="574.53" r="5.1" fill="#232d7d"/>
<circle cx="594.82" cy="581.1" r="5.1" fill="#232d7d"/>
<circle cx="667.4" cy="590.94" r="5.1" fill="#232d7d"/>
<text x="517.5" y="732.5" font-size="14.5" text-anchor="middle" font-weight="normal" fill="#1a1a1a" font-family='"Liberation Sans", sans-serif'  stroke="#1a1a1a" stroke-width="0.38">Inhibition</text>
<text x="369.5" y="526" font-size="18" text-anchor="start" font-weight="bold" fill="#000" font-family='"Liberation Sans", sans-serif'  stroke="#000" stroke-width="0.12">f</text>
<text x="546.9" y="790" text-anchor="middle" fill="#1a1a1a" font-size="16" stroke="#1a1a1a" stroke-width="0.38"><tspan font-family='"Liberation Serif", serif'>log </tspan><tspan font-family='"Liberation Serif", serif' font-style="italic">c</tspan><tspan font-family='"Liberation Serif", serif' font-size="12" dy="3">b</tspan><tspan font-family='"Liberation Sans", sans-serif' font-size="16" dy="-3" dx="0.3"> / M</tspan></text>
<text transform="translate(27.6,388.9) rotate(-90)" text-anchor="middle" fill="#1a1a1a" font-size="13.7" font-family='"Liberation Sans", sans-serif' stroke="#1a1a1a" stroke-width="0.38">Charge density / &#956;C cm<tspan font-size="9" dy="-5.5">-2</tspan></text>
<text transform="translate(391.1,388.9) rotate(-90)" text-anchor="middle" fill="#1a1a1a" font-size="13.7" font-family='"Liberation Sans", sans-serif' stroke="#1a1a1a" stroke-width="0.38">Charge density / &#956;C cm<tspan font-size="9" dy="-5.5">-2</tspan></text>
<circle cx="281.9" cy="308.9" r="17.6" fill="url(#g_red)"/>
<text x="283.4" y="313.9" font-size="13" font-weight="bold" fill="#fff" text-anchor="middle" font-family='"Liberation Sans", sans-serif'>K<tspan font-size="9" dy="-2.6" dx="0.3">+</tspan></text>
<circle cx="645.4" cy="308.9" r="17.6" fill="url(#g_blue)"/>
<text x="646.9" y="313.9" font-size="13" font-weight="bold" fill="#fff" text-anchor="middle" font-family='"Liberation Sans", sans-serif'>Li<tspan font-size="9" dy="-2.6" dx="0.3">+</tspan></text>
<rect x="76" y="295" width="35" height="11.3" fill="#a51c33" stroke="#555" stroke-width="0.5"/>
<rect x="76" y="310.8" width="35" height="11.5" fill="#2c6b3e" stroke="#555" stroke-width="0.5"/>
<line x1="76.3" y1="331.8" x2="105.7" y2="331.8" stroke="#1c1f2e" stroke-width="2"/>
<circle cx="93.4" cy="331.8" r="5.3" fill="#1c1f2e"/>
<text x="113" y="304.3" fill="#c23b4e" font-size="15" font-family='"Liberation Serif", serif' stroke="#c23b4e" stroke-width="0.38">|<tspan font-style="italic">&#963;</tspan><tspan font-size="11.5" dy="3">free</tspan><tspan dy="-3" dx="3">|</tspan></text>
<text x="113" y="320.2" fill="#3d8a55" font-size="15" font-family='"Liberation Serif", serif' stroke="#3d8a55" stroke-width="0.38">|<tspan font-style="italic">&#963;</tspan><tspan font-size="11.5" dy="3">ad</tspan><tspan dy="-3" dx="1">|</tspan></text>
<text x="113" y="336.2" fill="#1c1f2e" font-size="15" font-family='"Liberation Serif", serif' stroke="#1c1f2e" stroke-width="0.38">|<tspan font-style="italic">&#963;</tspan><tspan font-size="11.5" dy="3">M</tspan><tspan dy="-3" dx="1">|</tspan></text>
<text transform="translate(26.6,647.4) rotate(-90)" text-anchor="middle" fill="#1a1a1a" font-size="15" stroke="#1a1a1a" stroke-width="0.38"><tspan font-family='"Liberation Serif", serif' font-style="italic" font-size="17" stroke-width="0.6">&#968;</tspan><tspan font-family='"Liberation Serif", serif' font-style="italic" font-size="12.5" dy="3" dx="-0.5">x</tspan><tspan font-family='"Liberation Sans", sans-serif' font-size="14" dy="-3" dx="2.5">/ V</tspan></text>
<text transform="translate(392.2,646.5) rotate(-90)" text-anchor="middle" fill="#1a1a1a" font-size="14" stroke="#1a1a1a" stroke-width="0.38"><tspan font-family='"Liberation Serif", serif' font-size="16">|</tspan><tspan font-family='"Liberation Serif", serif' font-style="italic" font-size="15">E</tspan><tspan font-family='"Liberation Serif", serif' font-size="10" dy="3">el</tspan><tspan font-family='"Liberation Serif", serif' font-size="16" dy="-3">|</tspan><tspan font-family='"Liberation Sans", sans-serif' xml:space="preserve"> / V m</tspan><tspan font-family='"Liberation Sans", sans-serif' font-size="10" dy="-5">-1</tspan></text>
<g transform="translate(392.2,646.5) rotate(-90)"><path d="M-28.5,-13.6h7M-23.5,-15.4l2,1.8l-2,1.8" fill="none" stroke="#1a1a1a" stroke-width="0.9"/></g>
<text x="428" y="542" font-size="13" fill="#1a1a1a" font-family='"Liberation Sans", sans-serif' stroke="#1a1a1a" stroke-width="0.38"><tspan font-weight="normal" font-size="15.5">&#215;</tspan><tspan dx="2" font-size="14">10</tspan><tspan font-size="10" dy="-6.5" dx="1">8</tspan></text>
<text x="0.5" y="807.8" font-size="18" text-anchor="start" font-weight="bold" fill="#000" font-family='"Liberation Sans", sans-serif'  stroke="#000" stroke-width="0.12">g</text>
<line x1="71" y1="924" x2="304" y2="924" stroke="#34504f" stroke-width="2"/>
<path d="M310,924L303,920.6L304,924L303,927.4Z" fill="#34504f"/>
<text transform="translate(54.7,920.3) rotate(-90)" text-anchor="middle" fill="#1a1a1a" font-size="13.5" font-family='"Liberation Sans", sans-serif' stroke="#1a1a1a" stroke-width="0.38">&#916; HER activity</text>
<circle cx="103.7" cy="833.7" r="17.5" fill="url(#g_blue)"/>
<text x="105.2" y="838.7" font-size="13" font-weight="bold" fill="#fff" text-anchor="middle" font-family='"Liberation Sans", sans-serif'>Li<tspan font-size="9" dy="-2.6" dx="0.3">+</tspan></text>
<path d="M72,928.08L204.35,956.72L205.06,943.67L209.3,961.1L198.82,975.66L203.06,963.3L72,940.52Z" fill="url(#ar1)"/>
<path d="M72,915.63L203.22,816.49L193.66,807.45L211.5,814.1L213.55,833.03L207.15,821.54L72,929.57Z" fill="url(#ag1)"/>
<path d="M72,918.73L215.17,880.41L209.53,868.16L222.2,881.6L218.96,899.78L216.97,886.45L72,934.07Z" fill="url(#ad1)"/>
<line x1="71.1" y1="1019" x2="71.1" y2="842" stroke="#34504f" stroke-width="2"/>
<path d="M71.1,836L74.5,842.8L67.7,842.8Z" fill="#34504f"/>
<path d="M72,916L67.8,921.6L72,927Z" fill="#ebebeb"/>
<text x="218" y="844.6" font-size="13.7" font-weight="bold" fill="#2d7846" font-family='"Liberation Sans", sans-serif' stroke="#2d7846" stroke-width="0.12">more positive</text>
<text x="196" y="844.6" font-size="16" font-weight="bold" fill="#2d7846" font-family='"Liberation Serif", serif' font-style="italic" stroke="#2d7846" stroke-width="0.3">&#968;<tspan font-size="12" dy="3">x</tspan></text>
<rect x="223.1" y="866.1" width="98.4" height="24.2" fill="#191b28"/>
<text x="272.6" y="884" font-size="14" font-weight="bold" fill="#fff" text-anchor="middle" font-family='"Liberation Sans", sans-serif'>Promotion</text>
<text x="182.3" y="943.5" font-size="13.75" fill="#1a1a1a" font-family='"Liberation Sans", sans-serif' stroke="#1a1a1a" stroke-width="0.38">Cation concentration</text>
<text x="96" y="989.5" font-size="13.8" font-weight="bold" fill="#af1e37" font-family='"Liberation Sans", sans-serif' stroke="#af1e37" stroke-width="0.12">electric field weaker</text>
<line x1="428" y1="911.7" x2="662.5" y2="911.7" stroke="#34504f" stroke-width="2"/>
<path d="M668.5,911.7L661.5,908.3L662.5,911.7L661.5,915.1Z" fill="#34504f"/>
<text transform="translate(412.3,907.9) rotate(-90)" text-anchor="middle" fill="#1a1a1a" font-size="13.5" font-family='"Liberation Sans", sans-serif' stroke="#1a1a1a" stroke-width="0.38">&#916; HER activity</text>
<circle cx="458.7" cy="833.7" r="17.5" fill="url(#g_green)"/>
<text x="460.2" y="838.7" font-size="13" font-weight="bold" fill="#fff" text-anchor="middle" font-family='"Liberation Sans", sans-serif'>Na<tspan font-size="9" dy="-2.6" dx="0.3">+</tspan></text>
<circle cx="497.5" cy="833.7" r="17.5" fill="url(#g_red)"/>
<text x="499" y="838.7" font-size="13" font-weight="bold" fill="#fff" text-anchor="middle" font-family='"Liberation Sans", sans-serif'>K<tspan font-size="9" dy="-2.6" dx="0.3">+</tspan></text>
<line x1="428" y1="1007.5" x2="428" y2="829.7" stroke="#34504f" stroke-width="2"/>
<path d="M428,823.7L431.4,830.5L424.6,830.5Z" fill="#34504f"/>
<path d="M425,906.29L552.64,1009.44L559.1,997.98L555.2,1015.9L538.72,1023.93L548.32,1014.95L425,920.91Z" fill="url(#ar2)"/>
<path d="M425,899.91L563.44,859.89L557.76,848.03L570.2,861.5L567.33,879.61L565.47,866.59L425,911.09Z" fill="url(#ag2)"/>
<path d="M425,902.56L569.7,946.48L571.35,933.44L574.5,951.5L562.27,965.16L567.77,953.21L425,914.84Z" fill="url(#as2)"/>
<path d="M425.5,903L422.8,918.5L425.5,921Z" fill="#ececec"/>
<text x="556" y="846" font-size="13.7" font-weight="bold" fill="#2d7846" font-family='"Liberation Sans", sans-serif' stroke="#2d7846" stroke-width="0.12">more positive</text>
<text x="534" y="846" font-size="16" font-weight="bold" fill="#2d7846" font-family='"Liberation Serif", serif' font-style="italic" stroke="#2d7846" stroke-width="0.3">&#968;<tspan font-size="12" dy="3">x</tspan></text>
<rect x="576" y="940" width="100" height="24.5" fill="#191b28"/>
<text x="626" y="957.6" font-size="14" font-weight="bold" fill="#fff" text-anchor="middle" font-family='"Liberation Sans", sans-serif'>Inhibition</text>
<text x="540" y="928" font-size="13.75" fill="#1a1a1a" font-family='"Liberation Sans", sans-serif' stroke="#1a1a1a" stroke-width="0.38">Cation concentration</text>
<text x="542" y="993.5" font-size="13.8" font-weight="bold" fill="#af1e37" font-family='"Liberation Sans", sans-serif' stroke="#af1e37" stroke-width="0.12">electric field weaker</text>
</svg></div>
</body></html>
